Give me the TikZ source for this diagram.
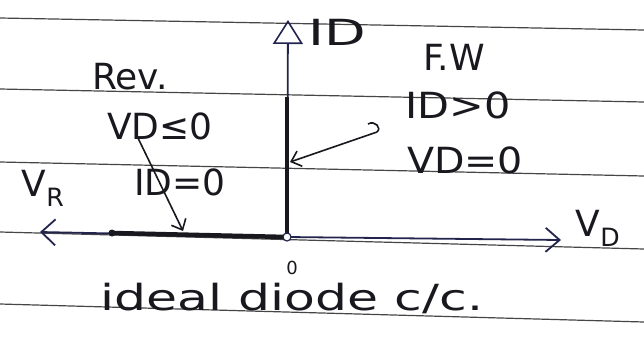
\documentclass[tikz,border=0pt]{standalone}
\usepackage{fontspec}
\setmainfont{DejaVu Sans}
\usepackage{tikz}
\usetikzlibrary{arrows.meta}
\definecolor{pencil}{RGB}{24,24,30}
\definecolor{axisink}{RGB}{34,36,78}
\definecolor{ruling}{RGB}{70,70,70}
\newcommand{\ruleline}[2]{%
  \draw[ruling, line width=1.2pt] (0,#1) -- (644,#2);}
\tikzset{
  hand/.style={text=pencil, inner sep=0pt},
  axisline/.style={draw=axisink, line width=1.8pt},
  boldpart/.style={draw=pencil, line width=4.5pt},
  pointer/.style={draw=pencil, line width=1.6pt, -{Straight Barb[length=9pt,width=16pt]}}
}

\begin{document}
\begin{tikzpicture}[x=1pt, y=-1pt, font=\fontsize{36}{38}\selectfont]
  \useasboundingbox[fill=white] (0,0) rectangle (644,338);
  \ruleline{18}{30}
  \ruleline{89}{102}
  \ruleline{162}{176}
  \ruleline{232}{249}
  \ruleline{304}{322}

  \coordinate (O) at (287,237);
  \coordinate (ytop) at (288,20);
  \coordinate (xleft) at (40,232);
  \coordinate (xright) at (561,240);
  \coordinate (fwstart) at (287,97);
  \coordinate (revstart) at (112,233);

  \draw[axisline, -{Straight Barb[length=14pt,width=26pt]}] (O) -- (xleft);
  \draw[axisline, -{Straight Barb[length=14pt,width=24pt]}] (O) -- (xright);
  \draw[axisline, -{Triangle[open, length=24pt, width=30pt, line width=1.6pt]}] (O) -- (ytop);
  \draw[boldpart] (revstart) -- (O);
  \draw[boldpart] (fwstart) -- (O);
  \fill[pencil] (revstart) circle (3.5);
  \draw[axisink, line width=1.2pt, fill=white] (O) circle (4);

  \node[hand, xscale=1.5] (ylabel) at (337,32) {ID};
  \node[hand] (fw) at (454,57) {F.W};
  \node[hand, xscale=1.15] (idpos) at (458,105) {ID>0};
  \node[hand, xscale=1.1] (vdzero) at (465,160) {VD=0};
  \node[hand] (rev) at (130,77) {Rev.};
  \node[hand] (vdneg) at (160,126) {VD≤0};
  \node[hand] (idzero) at (180,182) {ID=0};
  \node[hand] (vr) at (43,188) {V\textsubscript{R}};
  \node[hand] (vd) at (598,228) {V\textsubscript{D}};
  \node[hand, font=\fontsize{18}{20}\selectfont] (zero) at (292,268) {0};
  \node[hand, xscale=1.4] (caption) at (292,298) {ideal diode c/c.};

  \coordinate (revtail) at (138,138);
  \coordinate (revtip) at (183,231);
  \coordinate (fwtail) at (377,132);
  \coordinate (fwtip) at (290,162);
  \draw[pointer] (revtail) -- (revtip);
  \draw[pointer] (fwtail) -- (fwtip);
  \draw[pencil, line width=1.6pt] (fwtail) .. controls (382,128) and (375,120) .. (368,124);
\end{tikzpicture}
\end{document}
